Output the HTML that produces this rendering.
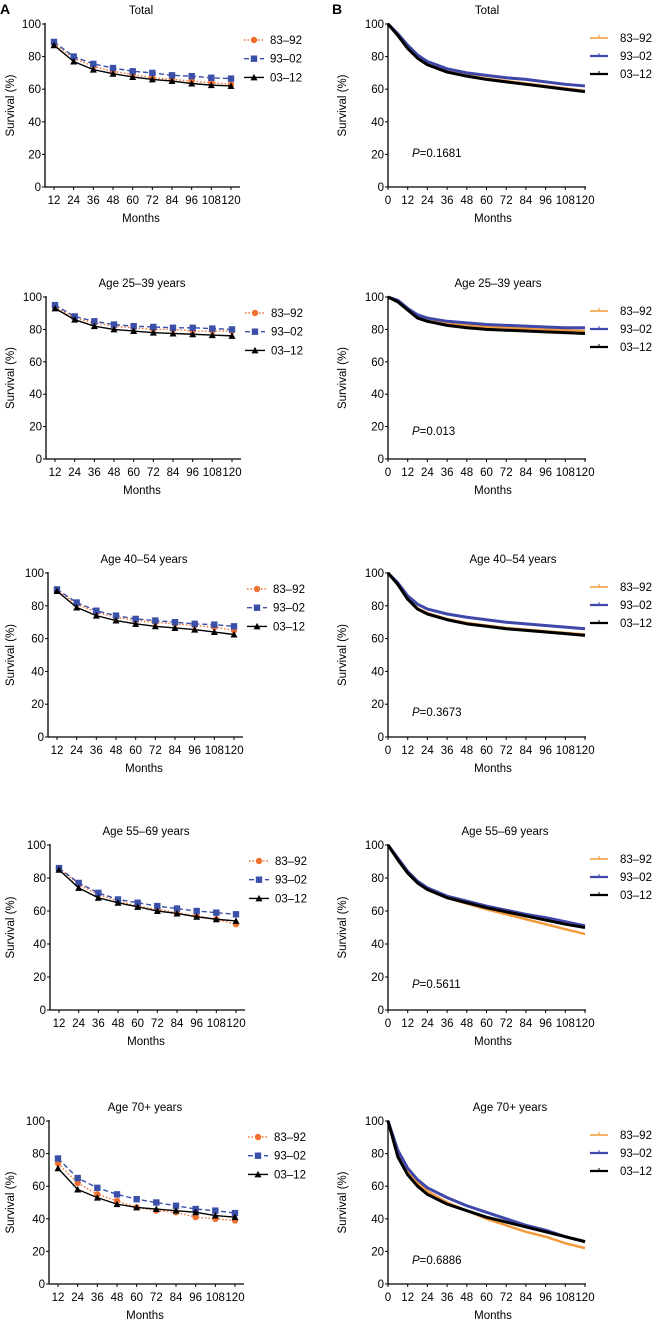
<!DOCTYPE html>
<html><head><meta charset="utf-8"><style>
html,body{margin:0;padding:0;background:#fff;}
svg{display:block;font-family:"Liberation Sans",Arial,sans-serif;}
</style></head><body>
<svg id="fig" width="657" height="1321" viewBox="0 0 657 1321">
<text x="0" y="14" font-size="14" font-weight="bold">A</text>
<text x="332" y="14" font-size="14" font-weight="bold">B</text>
</svg>
<script>
const titles = ["Total","Age 25–39 years","Age 40–54 years","Age 55–69 years","Age 70+ years"];
const seriesNames = ["83–92","93–02","03–12"];
const pValues = ["0.1681","0.013","0.3673","0.5611","0.6886"];
const yTicks = [0,20,40,60,80,100];
const monthsA = [12,24,36,48,60,72,84,96,108,120];
const ticksB = [0,12,24,36,48,60,72,84,96,108,120];
const monthsB = [0,6,12,18,24,36,48,60,72,84,96,108,120];
// Panel A values: [83-92, 93-02, 03-12]
const a0 = [[88,79,74,71,69,67,66,65,64,63],[89,80,75.5,73,71,70,68.5,68,67,66.5],[87,77,72,69.5,67.5,66,65,63.5,62.5,62]];
const a1 = [[94,87,84,82,81,80,80,79,79,79],[95,88,85,83,82,81.5,81,81,80.5,80],[93,86,82,80,79,78,77.5,77,76.5,76]];
const a2 = [[90,81,76,73,71,70,69,68,67,65],[90,82,77,74,72,71,70,69,68.5,67.5],[89,79,74,71,69,67.5,66.5,65.5,64,62.5]];
const a3 = [[86,76,70,66,63,61,59,57,55,52],[86,77,71,67,65,63,61.5,60,59,58],[85,74,68,65,62.5,60,58.5,56.5,55,54]];
const a4 = [[74,62,55,51,47,45,44,41,40,39],[77,65,59,55,52,50,48,46,45,43.5],[71,58,53,49,47,46,45,44,42,41]];
// Panel B values
const b0 = [[100,93,85.5,79.5,75.5,71,68.5,66.5,65,63.5,62,60.5,59],[100,94,87,81,77,72.5,70,68.5,67,66,64.5,63,62],[100,93,85,79,75,70.5,68,66,64.5,63,61.5,60,58.5]];
const b1 = [[100,97,92.5,88,86,83.5,82.5,81.5,81,80.5,80,79.5,79],[100,98,93,89,87,85,84,83,82.5,82,81.5,81,81],[100,97,92,87,85,82.5,81,80,79.5,79,78.5,78,77.5]];
const b2 = [[100,93,84.5,78.5,75.5,72,69.5,68,66.5,65.5,64.5,63.5,62.5],[100,94,86,81,78,75,73,71.5,70,69,68,67,66],[100,93,84,78,75,71.5,69,67.5,66,65,64,63,62]];
const b3 = [[100,91,83,77,73,68,64.5,61,58,55,52,49,46],[100,92,84,78,74,69,66,63,60.5,58,56,53.5,51],[100,91,83,77,73,68,65,62,59.5,57,54.5,52,50]];
const b4 = [[100,80,69,62,57,50,45,40,36,32,29,25,22],[100,82,71,64,59,53,48,44,40,36,33,29,26],[100,78,67,60,55,49,45,41,38,35,32,29,26]];
const dataA=[a0,a1,a2,a3,a4], dataB=[b0,b1,b2,b3,b4];

// layout (pixels)
const top100=[24,297,573,845,1121], bot0=[187,459,737,1010,1284];
const axA=[45,46,48,50,49];
const titleBX=[487,498,513,505,510];
const pOff=[30,24,21,22,20];

const NS="http://www.w3.org/2000/svg", svg=document.getElementById("fig");
function mk(tag,attrs,parent,text){const e=document.createElementNS(NS,tag);for(const k in attrs)e.setAttribute(k,attrs[k]);if(text!==undefined)e.textContent=text;(parent||svg).appendChild(e);return e;}
const colA=["#f07030","#3a4fa8","#000"], colB=["#f39a3c","#3f48a8","#000"];
const FS=11.5;

for(let p=0;p<5;p++){
  const y0=bot0[p], y100=top100[p];
  const ys=v=>y0-(v/100)*(y0-y100);
  // ---- Panel A
  const gA=mk("g",{});
  
  
  const xA0=axA[p], xs=m=>xA0+9+(m-12)/108*177;
  let t=mk("text",{x:xA0+96,y:y100-10,"font-size":FS,"text-anchor":"middle"},gA,titles[p]);
  
  
  mk("line",{x1:xA0,y1:y100-1,x2:xA0,y2:y0,stroke:"#000","stroke-width":1.3},gA);
  mk("line",{x1:xA0,y1:y0,x2:xA0+195,y2:y0,stroke:"#000","stroke-width":1.3},gA);
  yTicks.forEach(v=>{mk("line",{x1:xA0-3,y1:ys(v),x2:xA0,y2:ys(v),stroke:"#000"},gA);
    const l=mk("text",{x:xA0-4,y:ys(v)+4,"font-size":FS,"text-anchor":"end"},gA,String(v));
    
    });
  monthsA.forEach(m=>{mk("line",{x1:xs(m),y1:y0,x2:xs(m),y2:y0+3,stroke:"#000"},gA);
    const l=mk("text",{x:xs(m),y:y0+17,"font-size":FS,"text-anchor":"middle"},gA,String(m));
    
    });
  t=mk("text",{x:xA0+96,y:y0+35,"font-size":FS,"text-anchor":"middle"},gA,"Months");
  
  
  t=mk("text",{x:0,y:0,"font-size":FS,"text-anchor":"middle",transform:`translate(14,${(y0+y100)/2}) rotate(-90)`},gA,"Survival (%)");
  
  
  const dash=["1.5,2","5,3",""];
  [0,1,2].forEach(s=>{
    const pts=dataA[p][s].map((v,i)=>xs(monthsA[i])+","+ys(v)).join(" ");
    const ln=mk("polyline",{points:pts,fill:"none",stroke:colA[s],"stroke-width":1.4,"stroke-dasharray":dash[s]},gA);
    
    
    dataA[p][s].forEach((v,i)=>{const x=xs(monthsA[i]),y=ys(v);let m;
      if(s===0)m=mk("circle",{cx:x,cy:y,r:3.2,fill:colA[0]},gA);
      else if(s===1)m=mk("rect",{x:x-3.2,y:y-3.2,width:6.4,height:6.4,fill:colA[1]},gA);
      else m=mk("polygon",{points:`${x},${y-3.5} ${x-3.5},${y+3} ${x+3.5},${y+3}`,fill:"#000"},gA);
      
      });
    const ly=y100+16+s*18.7;
    const lx=xA0+199, cx=lx+10;
    mk("line",{x1:lx,y1:ly,x2:lx+20,y2:ly,stroke:colA[s],"stroke-width":1.4,"stroke-dasharray":dash[s]},gA);
    if(s===0)mk("circle",{cx:cx,cy:ly,r:3.2,fill:colA[0]},gA);
    else if(s===1)mk("rect",{x:cx-3.2,y:ly-3.2,width:6.4,height:6.4,fill:colA[1]},gA);
    else mk("polygon",{points:`${cx},${ly-3.5} ${cx-3.5},${ly+3} ${cx+3.5},${ly+3}`,fill:"#000"},gA);
    const lt=mk("text",{x:xA0+225,y:ly+4,"font-size":FS},gA,seriesNames[s]);
    
    
  });
  // ---- Panel B
  const gB=mk("g",{});
  
  
  const xB0=388, xb=m=>388+m/120*197;
  t=mk("text",{x:titleBX[p],y:y100-10,"font-size":FS,"text-anchor":"middle"},gB,titles[p]);
  
  
  mk("line",{x1:xB0,y1:y100-1,x2:xB0,y2:y0,stroke:"#000","stroke-width":1.3},gB);
  mk("line",{x1:xB0,y1:y0,x2:586,y2:y0,stroke:"#000","stroke-width":1.3},gB);
  yTicks.forEach(v=>{mk("line",{x1:xB0-3,y1:ys(v),x2:xB0,y2:ys(v),stroke:"#000"},gB);
    const l=mk("text",{x:xB0-4,y:ys(v)+4,"font-size":FS,"text-anchor":"end"},gB,String(v));
    
    });
  ticksB.forEach(m=>{mk("line",{x1:xb(m),y1:y0,x2:xb(m),y2:y0+3,stroke:"#000"},gB);
    const l=mk("text",{x:xb(m),y:y0+17,"font-size":FS,"text-anchor":"middle"},gB,String(m));
    
    });
  t=mk("text",{x:493,y:y0+35,"font-size":FS,"text-anchor":"middle"},gB,"Months");
  
  
  t=mk("text",{x:0,y:0,"font-size":FS,"text-anchor":"middle",transform:`translate(346,${(y0+y100)/2}) rotate(-90)`},gB,"Survival (%)");
  
  
  t=mk("text",{x:412,y:y0-pOff[p],"font-size":FS},gB);
  
  
  mk("tspan",{"font-style":"italic"},t,"P");mk("tspan",{},t,"="+pValues[p]);
  [0,1,2].forEach(s=>{
    const pts=dataB[p][s].map((v,i)=>xb(monthsB[i])+","+ys(v)).join(" ");
    const ln=mk("polyline",{points:pts,fill:"none",stroke:colB[s],"stroke-width":s===0?2.5:3,"stroke-linejoin":"round"},gB);
    
    
    const ly=y100+14+s*18;
    mk("line",{x1:590,y1:ly,x2:608,y2:ly,stroke:colB[s],"stroke-width":s===0?1.5:2.2},gB);
    mk("line",{x1:599,y1:ly-3,x2:599,y2:ly,stroke:colB[s],"stroke-width":1},gB);
    const lt=mk("text",{x:620,y:ly+4,"font-size":FS},gB,seriesNames[s]);
    
    
  });
}
</script>
</body></html>
